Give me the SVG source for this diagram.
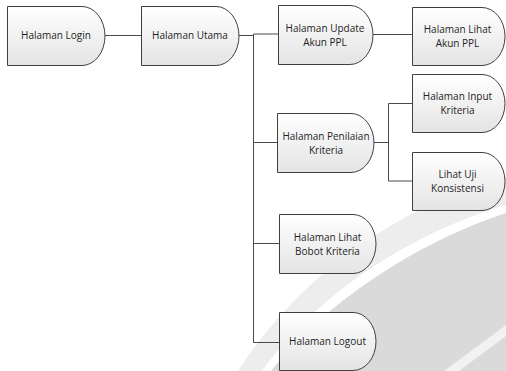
<svg xmlns="http://www.w3.org/2000/svg" width="506" height="371" viewBox="0 0 506 371">
<defs>
<linearGradient id="g" x1="0" y1="0" x2="0" y2="1">
<stop offset="0" stop-color="#ffffff"/>
<stop offset="1" stop-color="#e4e4e4"/>
</linearGradient>
<style>
.box{fill:url(#g);stroke:#3f3f3f;stroke-width:1}
.t{font-family:"Open Sans","DejaVu Sans",sans-serif;font-size:10px;fill:#1e1e1e;text-anchor:middle}
.c{fill:none;stroke:#4a4a4a;stroke-width:1}
</style>
</defs>
<rect width="506" height="371" fill="#ffffff"/>
<g id="swoosh">
<path d="M238 371 C290 290 380 212 506 177 L506 371 Z" fill="#ededed"/>
<path d="M262 371 C312 300 402 236 506 205 L506 371 Z" fill="#ffffff"/>
<path d="M271 371 C322 306 412 244 506 213 L506 371 Z" fill="#dadada"/>
<path d="M444 371 L506 325 L506 336 L459 371 Z" fill="#f2f2f2"/>
</g>
<g id="connectors">
<path class="c" d="M105 35.5 H141"/>
<path class="c" d="M239 35.5 H253.5" stroke-width="2"/>
<path class="c" d="M253.5 34 H278"/>
<path class="c" d="M253.5 34 V342.5 H279"/>
<path class="c" d="M253.5 142.5 H277"/>
<path class="c" d="M253.5 243.5 H279"/>
<path class="c" d="M373 34.5 H412"/>
<path class="c" d="M374 142.5 H388.5"/>
<path class="c" d="M412 103.5 H388.5 V181 H412"/>
</g>
<g id="login">
<path class="box" d="M7.5 6.5 H82 A23 29.5 0 0 1 82 65.5 H7.5 Z"/>
<text class="t" x="56" y="39">Halaman Login</text>
</g>
<g id="utama">
<path class="box" d="M141.5 6.5 H216 A23 29.5 0 0 1 216 65.5 H141.5 Z"/>
<text class="t" x="190" y="39">Halaman Utama</text>
</g>
<g id="update">
<path class="box" d="M278.5 5.5 H350 A23 29.5 0 0 1 350 64.5 H278.5 Z"/>
<text class="t" x="325" y="32">Halaman Update</text>
<text class="t" x="325" y="46">Akun PPL</text>
</g>
<g id="lihat-akun">
<path class="box" d="M412.5 7.5 H482 A23 29 0 0 1 482 65.5 H412.5 Z"/>
<text class="t" x="457.5" y="32.5">Halaman Lihat</text>
<text class="t" x="457.5" y="46.5">Akun PPL</text>
</g>
<g id="penilaian">
<path class="box" d="M277.5 113.5 H351 A23 29.5 0 0 1 351 172.5 H277.5 Z"/>
<text class="t" x="326" y="139.5">Halaman Penilaian</text>
<text class="t" x="326" y="153.5">Kriteria</text>
</g>
<g id="input-kriteria">
<path class="box" d="M412.5 74.5 H482 A23 29 0 0 1 482 132.5 H412.5 Z"/>
<text class="t" x="457.5" y="99.5">Halaman Input</text>
<text class="t" x="457.5" y="113.5">Kriteria</text>
</g>
<g id="uji">
<path class="box" d="M412.5 152.5 H482 A23 29 0 0 1 482 210.5 H412.5 Z"/>
<text class="t" x="457.5" y="177.5">Lihat Uji</text>
<text class="t" x="457.5" y="191.5">Konsistensi</text>
</g>
<g id="bobot">
<path class="box" d="M279.5 214.5 H353 A23 29.5 0 0 1 353 273.5 H279.5 Z"/>
<text class="t" x="327.5" y="240.5">Halaman Lihat</text>
<text class="t" x="327.5" y="254.5">Bobot Kriteria</text>
</g>
<g id="logout">
<path class="box" d="M279.5 312.5 H353 A23 29 0 0 1 353 370.5 H279.5 Z"/>
<text class="t" x="327.5" y="345">Halaman Logout</text>
</g>
</svg>
